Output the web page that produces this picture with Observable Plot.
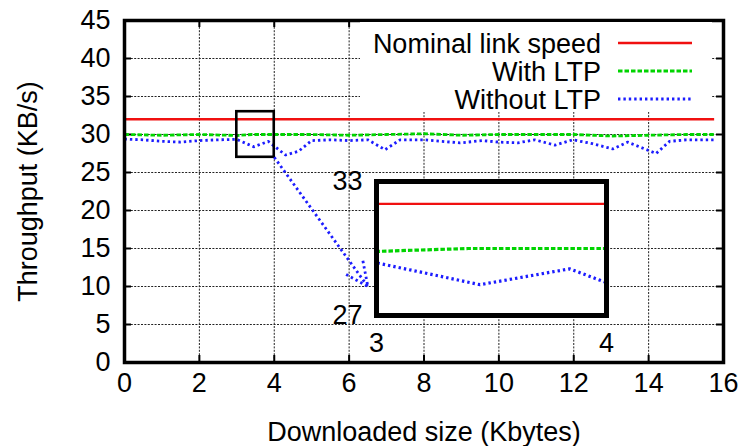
<!DOCTYPE html>
<html><head><meta charset="utf-8">
<script src="https://cdn.jsdelivr.net/npm/d3@7"></script>
<script src="https://cdn.jsdelivr.net/npm/@observablehq/plot@0.6"></script>
<style>
body{margin:0;background:#fff;}
#wrap{position:relative;width:740px;height:446px;overflow:hidden;background:#fff;}
</style></head><body><div id="wrap"></div>
<script>
// ---- data ----
const xTicks = [0, 2, 4, 6, 8, 10, 12, 14, 16];
const yTicks = [0, 5, 10, 15, 20, 25, 30, 35, 40, 45];
const xTitle = "Downloaded size (Kbytes)";
const yTitle = "Throughput (KB/s)";
const seriesNames = ["Nominal link speed", "With LTP", "Without LTP"];

const nominalX = [0, 15.75];
const nominalY = [32, 32];

const ltpX = [0, 0.5, 1, 2, 3, 3.4, 4, 5, 6, 7, 8, 9, 10, 11, 12, 13, 14, 15, 15.75];
const ltpY = [30.0, 29.95, 29.9, 30.0, 29.87, 30.0, 30.0, 30.0, 29.9, 30.0, 30.1, 29.9, 30.0, 30.0, 30.0, 29.8, 29.9, 30.0, 30.0];

const noLtpX = [0, 0.5, 1, 1.5, 2, 2.5, 3, 3.45, 3.84, 4, 4.3, 4.65, 5, 5.5, 6, 6.5, 6.96, 7.36, 8, 8.96, 9.57, 10, 10.5, 10.96, 11.5, 11.97, 12.5, 13.04, 13.44, 14.2, 14.56, 15, 15.75];
const noLtpY = [29.4, 29.3, 29.1, 29.0, 29.2, 29.3, 29.36, 28.38, 29.09, 28.47, 27.3, 27.8, 29.2, 29.3, 29.2, 29.3, 28.0, 29.3, 29.3, 28.9, 29.2, 29.0, 28.9, 29.3, 28.6, 29.3, 28.8, 28.1, 29.0, 27.5, 29.1, 29.3, 29.3];

const insetXDomain = [3, 4];
const insetYDomain = [27, 33];
const arrowFrom = [4, 27];
const arrowTo = [6.5, 10];

// ---- build tables ----
const zip = (xs, ys) => xs.map((x, i) => ({x, y: ys[i]}));
const nominal = zip(nominalX, nominalY);
const ltp = zip(ltpX, ltpY);
const noLtp = zip(noLtpX, noLtpY);

const FONT = "'Liberation Sans', Arial, Helvetica, sans-serif";
const FS = 27;
const RED = "#f01010", GREEN = "#00d400", BLUE = "#1c1cff";
const gridStyle = {stroke: "#222", strokeWidth: 1, strokeDasharray: "2,1.4"};
const redStyle = {stroke: RED, strokeWidth: 2.4, strokeLinecap: "butt"};
const greenStyle = {stroke: GREEN, strokeWidth: 2.8, strokeDasharray: "4.5,2", strokeLinecap: "butt"};
const blueStyle = {stroke: BLUE, strokeWidth: 2.8, strokeDasharray: "2.4,3", strokeLinecap: "butt"};
const fmt = d => String(d);

const W = 740, H = 446, mL = 124, mR = 17, mT = 20, mB = 84;
const innerW = W - mL - mR, innerH = H - mT - mB;
const TL = 7;

const wrap = document.getElementById("wrap");

const main = Plot.plot({
  width: W, height: H,
  marginLeft: mL, marginRight: mR, marginTop: mT, marginBottom: mB,
  x: {domain: [xTicks[0], xTicks[xTicks.length - 1]]},
  y: {domain: [yTicks[0], yTicks[yTicks.length - 1]]},
  style: {fontFamily: FONT, fontSize: FS + "px", color: "#000", background: "white", position: "absolute", left: "0px", top: "0px", overflow: "visible"},
  marks: [
    Plot.ruleX(xTicks.slice(1, -1), gridStyle),
    Plot.ruleY(yTicks.slice(1, -1), gridStyle),
    Plot.tickX(xTicks, {x: d => d, insetTop: innerH - TL, stroke: "#000", strokeWidth: 2}),
    Plot.tickX(xTicks, {x: d => d, insetBottom: innerH - TL, stroke: "#000", strokeWidth: 2}),
    Plot.tickY(yTicks, {y: d => d, insetRight: innerW - TL, stroke: "#000", strokeWidth: 2}),
    Plot.tickY(yTicks, {y: d => d, insetLeft: innerW - TL, stroke: "#000", strokeWidth: 2}),
    Plot.line(nominal, {x: "x", y: "y", ...redStyle}),
    Plot.line(ltp, {x: "x", y: "y", ...greenStyle}),
    Plot.line(noLtp, {x: "x", y: "y", ...blueStyle}),
    Plot.rect([{x1: insetXDomain[0], x2: insetXDomain[1], y1: insetYDomain[0], y2: insetYDomain[1]}],
      {x1: "x1", x2: "x2", y1: "y1", y2: "y2", fill: "none", stroke: "#000", strokeWidth: 2.6}),
    Plot.arrow([{x1: arrowFrom[0], y1: arrowFrom[1], x2: arrowTo[0], y2: arrowTo[1]}],
      {x1: "x1", y1: "y1", x2: "x2", y2: "y2", stroke: BLUE, strokeWidth: 2.8, strokeDasharray: "2.4,3", strokeLinecap: "butt", headLength: 14, headAngle: 50}),
    Plot.axisX({ticks: xTicks, tickFormat: fmt, tickSize: 0, tickPadding: 10, label: null, fontSize: FS}),
    Plot.axisY({ticks: yTicks, tickFormat: fmt, tickSize: 0, tickPadding: 14, label: null, fontSize: FS}),
    Plot.text([xTitle], {text: d => d, frameAnchor: "bottom", textAnchor: "middle", lineAnchor: "middle", dy: 70, fontSize: FS, fill: "#000"}),
    Plot.text([yTitle], {text: d => d, frameAnchor: "left", textAnchor: "middle", lineAnchor: "middle", dx: -96, rotate: -90, fontSize: FS, fill: "#000"}),
    Plot.frame({stroke: "#000", strokeWidth: 3.5})
  ]
});
wrap.appendChild(main);

// ---- inset ----
const iL = 46, iR = 10, iT = 16, iB = 40, iW = 230, iH = 134;
const inset = Plot.plot({
  width: iL + iW + iR, height: iT + iH + iB,
  marginLeft: iL, marginRight: iR, marginTop: iT, marginBottom: iB,
  x: {domain: insetXDomain},
  y: {domain: insetYDomain},
  style: {fontFamily: FONT, fontSize: FS + "px", color: "#000", background: "transparent", position: "absolute", left: (376 - iL) + "px", top: (181 - iT) + "px", overflow: "visible"},
  marks: [
    Plot.frame({fill: "white"}),
    Plot.line(nominal, {x: "x", y: "y", ...redStyle, clip: true}),
    Plot.line(ltp, {x: "x", y: "y", ...greenStyle, strokeWidth: 3.2, clip: true}),
    Plot.line(noLtp, {x: "x", y: "y", ...blueStyle, strokeWidth: 3.2, clip: true}),
    Plot.axisX({ticks: insetXDomain, tickFormat: fmt, tickSize: 0, tickPadding: 17, label: null, fontSize: FS}),
    Plot.axisY({ticks: insetYDomain, tickFormat: fmt, tickSize: 0, tickPadding: 14, label: null, fontSize: FS}),
    Plot.frame({stroke: "#000", strokeWidth: 5})
  ]
});
wrap.appendChild(inset);

// ---- legend (key) ----
const leg = d3.create("svg")
  .attr("width", W).attr("height", H)
  .style("position", "absolute").style("left", "0px").style("top", "0px")
  .attr("font-family", FONT).attr("font-size", FS);
leg.append("rect").attr("x", 360).attr("y", 22).attr("width", 352).attr("height", 90).attr("fill", "white");
const legStyles = [redStyle, greenStyle, blueStyle];
seriesNames.forEach((name, i) => {
  const y = 43 + i * 28;
  leg.append("text").attr("x", 601).attr("y", y).attr("dy", "0.36em").attr("text-anchor", "end").attr("fill", "#000").text(name);
  const s = legStyles[i];
  leg.append("line").attr("x1", 618).attr("x2", 692).attr("y1", y).attr("y2", y)
    .attr("stroke", s.stroke).attr("stroke-width", s.strokeWidth)
    .attr("stroke-dasharray", s.strokeDasharray || null);
});
wrap.appendChild(leg.node());
</script>
</body></html>
